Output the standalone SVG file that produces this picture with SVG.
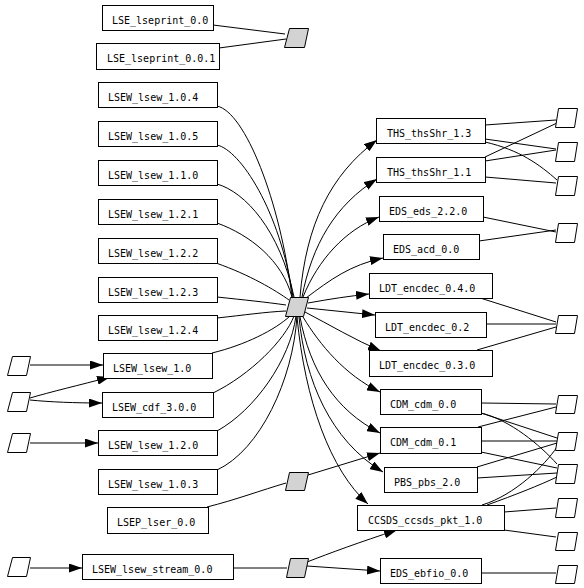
<svg xmlns="http://www.w3.org/2000/svg" width="584" height="588" viewBox="0 0 584 588">
<style>
.b{fill:#fff;stroke:#000;stroke-width:1}
.g{fill:#d3d3d3;stroke:#000;stroke-width:1}
.p{fill:#fff;stroke:#000;stroke-width:1}
text{font-family:"DejaVu Sans Mono","Liberation Mono",monospace;font-size:10px;fill:#000}
#edges path{fill:none;stroke:#000;stroke-width:1}
</style>
<defs>
<marker id="ah" markerUnits="userSpaceOnUse" markerWidth="13" markerHeight="9" viewBox="0 0 13 9" refX="13" refY="4.5" orient="auto"><path d="M0,0L13,4.5L0,9z" fill="#000"/></marker>
</defs>
<rect width="584" height="588" fill="#fff"/>
<g id="edges">
<path d="M213,25 L285,34"/>
<path d="M219,48 L286,39"/>
<path d="M217,106 C245,112 280,200 292,297"/>
<path d="M217,145 C240,150 280,210 293,297"/>
<path d="M217,184 C245,192 280,230 294,297"/>
<path d="M217,223 C250,235 282,260 292,297"/>
<path d="M216,263 C250,275 275,290 289,300"/>
<path d="M217,297 C245,300 265,302 286,305"/>
<path d="M217,318 C245,315 265,312 286,311"/>
<path d="M212,353 C245,345 275,330 290,316"/>
<path d="M213,393 C250,375 285,340 294,316"/>
<path d="M217,431 C255,410 290,360 296,316"/>
<path d="M217,470 C260,450 293,380 297,316"/>
<path d="M300,297 C306,225 330,175 377,140" marker-end="url(#ah)"/>
<path d="M302,297 C312,245 335,205 377,179" marker-end="url(#ah)"/>
<path d="M303,297 C318,260 345,230 379,217" marker-end="url(#ah)"/>
<path d="M306,298 C330,280 350,265 383,258" marker-end="url(#ah)"/>
<path d="M308,303 C330,299 350,296 369,294" marker-end="url(#ah)"/>
<path d="M307,308 L375,315" marker-end="url(#ah)"/>
<path d="M305,312 C330,325 355,340 381,351" marker-end="url(#ah)"/>
<path d="M303,317 C320,345 345,375 380,392" marker-end="url(#ah)"/>
<path d="M300,317 C310,370 335,410 380,433" marker-end="url(#ah)"/>
<path d="M299,317 C305,380 330,440 383,472" marker-end="url(#ah)"/>
<path d="M297,317 C305,400 330,470 368,504" marker-end="url(#ah)"/>
<path d="M207,507 C235,500 262,490 286,483"/>
<path d="M308,475 L380,453" marker-end="url(#ah)"/>
<path d="M233,568 L287,568"/>
<path d="M307,562 C330,553 360,542 397,530" marker-end="url(#ah)"/>
<path d="M307,566 L380,571" marker-end="url(#ah)"/>
<path d="M30,365 L103,365" marker-end="url(#ah)"/>
<path d="M30,398 C50,392 80,385 110,377" marker-end="url(#ah)"/>
<path d="M30,400 C50,402 75,403 102,403" marker-end="url(#ah)"/>
<path d="M30,443 L98,443" marker-end="url(#ah)"/>
<path d="M30,568 L82,568" marker-end="url(#ah)"/>
<path d="M485,125 L556,120"/>
<path d="M485,139 L556,149"/>
<path d="M485,142 C520,150 540,165 557,180"/>
<path d="M485,157 L557,123"/>
<path d="M485,161 L556,150"/>
<path d="M485,177 L556,183"/>
<path d="M483,217 L556,232"/>
<path d="M479,241 L556,230"/>
<path d="M477,297 L556,322"/>
<path d="M486,324 L556,324"/>
<path d="M477,350 L556,327"/>
<path d="M481,403 L556,404"/>
<path d="M481,413 L557,438"/>
<path d="M481,413 C510,420 540,445 557,464"/>
<path d="M478,427 L556,407"/>
<path d="M481,441 L557,441"/>
<path d="M481,452 L557,468"/>
<path d="M477,467 L557,443"/>
<path d="M477,478 L557,473"/>
<path d="M482,505 C515,495 545,465 557,447"/>
<path d="M487,505 C515,495 540,485 557,477"/>
<path d="M504,512 L556,508"/>
<path d="M504,530 L556,537"/>
<path d="M481,573 L556,573"/>
</g>
<g id="n_lse00"><rect class="b" x="102.5" y="5.5" width="111" height="25"/><text x="112" y="24">LSE_lseprint_0.0</text></g>
<g id="n_lse001"><rect class="b" x="96.5" y="43.5" width="123" height="26"/><text x="107" y="62">LSE_lseprint_0.0.1</text></g>
<g id="n_lsew104"><rect class="b" x="98.5" y="82.5" width="119" height="25"/><text x="108" y="101">LSEW_lsew_1.0.4</text></g>
<g id="n_lsew105"><rect class="b" x="98.5" y="121.5" width="119" height="25"/><text x="108" y="140">LSEW_lsew_1.0.5</text></g>
<g id="n_lsew110"><rect class="b" x="98.5" y="160.5" width="119" height="25"/><text x="108" y="179">LSEW_lsew_1.1.0</text></g>
<g id="n_lsew121"><rect class="b" x="98.5" y="199.5" width="119" height="25"/><text x="108" y="218">LSEW_lsew_1.2.1</text></g>
<g id="n_lsew122"><rect class="b" x="98.5" y="238.5" width="119" height="25"/><text x="108" y="257">LSEW_lsew_1.2.2</text></g>
<g id="n_lsew123"><rect class="b" x="98.5" y="277.5" width="119" height="25"/><text x="108" y="296">LSEW_lsew_1.2.3</text></g>
<g id="n_lsew124"><rect class="b" x="98.5" y="315.5" width="119" height="25"/><text x="108" y="334">LSEW_lsew_1.2.4</text></g>
<g id="n_lsew10"><rect class="b" x="103.5" y="353.5" width="109" height="25"/><text x="113" y="372">LSEW_lsew_1.0</text></g>
<g id="n_cdf300"><rect class="b" x="102.5" y="392.5" width="111" height="25"/><text x="112" y="411">LSEW_cdf_3.0.0</text></g>
<g id="n_lsew120"><rect class="b" x="98.5" y="430.5" width="119" height="25"/><text x="108" y="449">LSEW_lsew_1.2.0</text></g>
<g id="n_lsew103"><rect class="b" x="98.5" y="469.5" width="119" height="25"/><text x="108" y="488">LSEW_lsew_1.0.3</text></g>
<g id="n_lser00"><rect class="b" x="107.5" y="507.5" width="101" height="26"/><text x="117" y="526">LSEP_lser_0.0</text></g>
<g id="n_stream"><rect class="b" x="82.5" y="554.5" width="151" height="25"/><text x="92" y="573">LSEW_lsew_stream_0.0</text></g>
<g id="n_ths13"><rect class="b" x="376.5" y="118.5" width="109" height="25"/><text x="387" y="137">THS_thsShr_1.3</text></g>
<g id="n_ths11"><rect class="b" x="376.5" y="157.5" width="109" height="25"/><text x="387" y="176">THS_thsShr_1.1</text></g>
<g id="n_eds220"><rect class="b" x="379.5" y="196.5" width="104" height="25"/><text x="389" y="215">EDS_eds_2.2.0</text></g>
<g id="n_acd00"><rect class="b" x="383.5" y="234.5" width="96" height="25"/><text x="393" y="253">EDS_acd_0.0</text></g>
<g id="n_ldt040"><rect class="b" x="369.5" y="273.5" width="123" height="25"/><text x="379" y="292">LDT_encdec_0.4.0</text></g>
<g id="n_ldt02"><rect class="b" x="375.5" y="312.5" width="111" height="25"/><text x="385" y="331">LDT_encdec_0.2</text></g>
<g id="n_ldt030"><rect class="b" x="369.5" y="350.5" width="123" height="26"/><text x="379" y="369">LDT_encdec_0.3.0</text></g>
<g id="n_cdm00"><rect class="b" x="380.5" y="389.5" width="101" height="25"/><text x="390" y="408">CDM_cdm_0.0</text></g>
<g id="n_cdm01"><rect class="b" x="380.5" y="427.5" width="101" height="26"/><text x="390" y="446">CDM_cdm_0.1</text></g>
<g id="n_pbs20"><rect class="b" x="384.5" y="467.5" width="93" height="25"/><text x="394" y="486">PBS_pbs_2.0</text></g>
<g id="n_ccsds"><rect class="b" x="357.5" y="505.5" width="147" height="25"/><text x="368" y="524">CCSDS_ccsds_pkt_1.0</text></g>
<g id="n_ebfio"><rect class="b" x="380.5" y="558.5" width="101" height="25"/><text x="390" y="577">EDS_ebfio_0.0</text></g>
<g id="h_top"><polygon class="g" points="289.5,28.5 308.5,28.5 304.5,47.5 284.5,47.5"/></g>
<g id="h_main"><polygon class="g" points="290.5,297.5 308.5,297.5 303.5,316.5 285.5,316.5"/></g>
<g id="h_low"><polygon class="g" points="289.5,472.5 308.5,472.5 304.5,490.5 285.5,490.5"/></g>
<g id="h_bot"><polygon class="g" points="290.5,558.5 308.5,558.5 304.5,577.5 286.5,577.5"/></g>
<g id="l1"><polygon class="p" points="12.5,356.5 30.5,356.5 26.5,375.5 7.5,375.5"/></g>
<g id="l2"><polygon class="p" points="12.5,392.5 30.5,392.5 26.5,411.5 7.5,411.5"/></g>
<g id="l3"><polygon class="p" points="12.5,433.5 30.5,433.5 26.5,452.5 7.5,452.5"/></g>
<g id="l4"><polygon class="p" points="12.5,557.5 30.5,557.5 26.5,576.5 7.5,576.5"/></g>
<g id="r1"><polygon class="p" points="558.5,108.5 577.5,108.5 574.5,127.5 555.5,127.5"/></g>
<g id="r2"><polygon class="p" points="558.5,142.5 577.5,142.5 574.5,161.5 555.5,161.5"/></g>
<g id="r3"><polygon class="p" points="558.5,176.5 577.5,176.5 574.5,195.5 555.5,195.5"/></g>
<g id="r4"><polygon class="p" points="558.5,223.5 577.5,223.5 574.5,242.5 555.5,242.5"/></g>
<g id="r5"><polygon class="p" points="558.5,315.5 577.5,315.5 574.5,333.5 555.5,333.5"/></g>
<g id="r6"><polygon class="p" points="558.5,395.5 577.5,395.5 574.5,413.5 555.5,413.5"/></g>
<g id="r7"><polygon class="p" points="558.5,432.5 577.5,432.5 574.5,450.5 555.5,450.5"/></g>
<g id="r8"><polygon class="p" points="558.5,464.5 577.5,464.5 574.5,483.5 555.5,483.5"/></g>
<g id="r9"><polygon class="p" points="558.5,498.5 577.5,498.5 574.5,517.5 555.5,517.5"/></g>
<g id="r10"><polygon class="p" points="558.5,532.5 577.5,532.5 574.5,550.5 555.5,550.5"/></g>
<g id="r11"><polygon class="p" points="558.5,565.5 577.5,565.5 574.5,583.5 555.5,583.5"/></g>
</svg>
